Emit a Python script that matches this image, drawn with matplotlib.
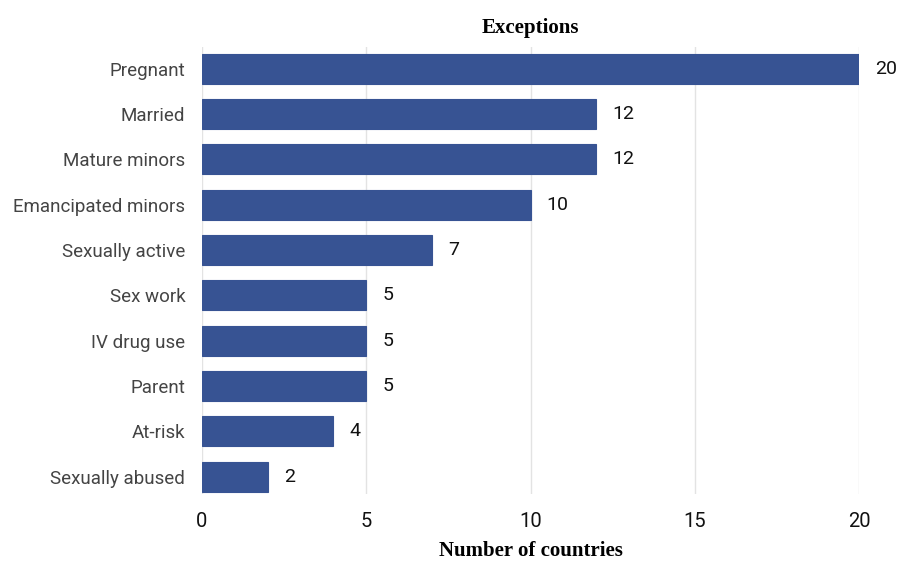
import matplotlib
matplotlib.use("Agg")
import matplotlib.pyplot as plt

categories = ["Pregnant", "Married", "Mature minors", "Emancipated minors",
              "Sexually active", "Sex work", "IV drug use", "Parent",
              "At-risk", "Sexually abused"]
values = [20, 12, 12, 10, 7, 5, 5, 5, 4, 2]
xticks = [0, 5, 10, 15, 20]

fig = plt.figure(figsize=(8.98, 5.62), dpi=100)
ax = fig.add_axes([202/898, 1-494/562, (859-202)/898, (494-47)/562])

y = list(range(len(categories)))
ax.barh(y, values, height=0.66, color="#375393", edgecolor="#375393",
        linewidth=0.8, zorder=3)
for yi, v in zip(y, values):
    ax.annotate(str(v), (v, yi), xytext=(16, 0), textcoords="offset pixels",
                va="center", ha="left", fontsize=14, family="Roboto", color="#111111")

ax.set_ylim(len(categories) - 0.5 - 0.12, -0.5 + 0.02)
ax.set_xlim(0, 20)
ax.set_yticks(y)
ax.set_yticklabels(categories, fontsize=13.5, family="Roboto", color="#444444")
ax.set_xticks(xticks)
ax.set_xticklabels([str(t) for t in xticks], fontsize=14.5, family="Roboto", color="#111111")
ax.tick_params(axis="both", length=0)
ax.tick_params(axis="y", pad=12)
ax.tick_params(axis="x", pad=13)
ax.grid(axis="x", color="#e3e3e3", linewidth=1, zorder=0)
for s in ax.spines.values():
    s.set_visible(False)

ax.set_title("Exceptions", family="Liberation Serif", fontweight="bold",
             fontsize=15, pad=10)
ax.set_xlabel("Number of countries", family="Liberation Serif", fontweight="bold",
              fontsize=15, labelpad=7)

fig.savefig("out.png", dpi=100)
